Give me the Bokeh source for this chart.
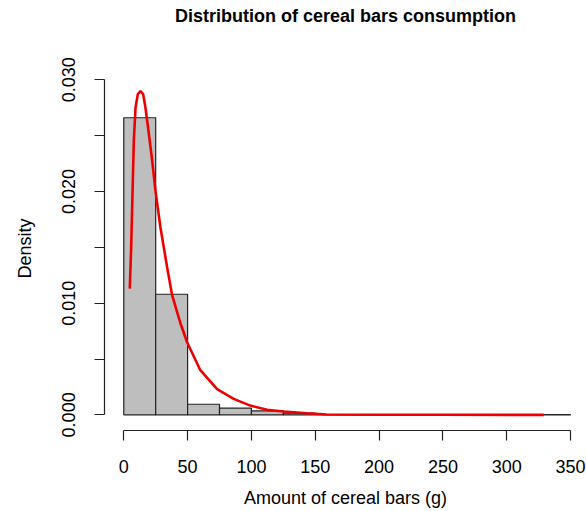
from bokeh.plotting import figure
from bokeh.models import LinearAxis, FixedTicker, Range1d, Title, NumeralTickFormatter
from bokeh.embed import file_html
from bokeh.resources import INLINE

# Histogram bins (g) and densities
bin_left = [0, 25, 50, 75, 100, 125, 150, 175, 200, 225, 250, 275, 300, 325]
bin_right = [25, 50, 75, 100, 125, 150, 175, 200, 225, 250, 275, 300, 325, 350]
density = [0.0266, 0.0108, 0.00095, 0.0006, 0.00035, 0.00015, 0.00003, 0, 0, 0, 0, 0, 0, 0.00002]

# Kernel density curve
kde_x = [4.7, 5.8, 7.1, 7.9, 9.2, 11.0, 13.1, 15.2, 17.0, 19.6, 22.2, 24.8, 28.7, 34.0, 37.9,
         44.4, 49.6, 60.0, 73.1, 86.1, 99.2, 112.3, 125.3, 143.6, 159.0, 200.0, 250.0, 329.0]
kde_y = [0.0113, 0.0150, 0.0210, 0.0246, 0.0275, 0.0287, 0.0290, 0.0287, 0.0275, 0.0252, 0.0228,
         0.0201, 0.0168, 0.0132, 0.0107, 0.0082, 0.0065, 0.0040, 0.0023, 0.00143, 0.00083,
         0.00045, 0.0003, 0.00015, 0.00003, 0.00001, 0.000005, 0.0]

x_ticks = [0, 50, 100, 150, 200, 250, 300, 350]
y_ticks = [0.0, 0.01, 0.02, 0.03]
y_minor = [0.005, 0.015, 0.025]

title_text = "Distribution of cereal bars consumption"

FONT = "Liberation Sans"
INK = "#222222"

p = figure(width=586, height=511, output_backend="svg", toolbar_location=None,
           x_axis_type=None, y_axis_type=None,
           x_range=Range1d(-15.1, 362.5), y_range=Range1d(-0.0014, 0.03119),
           min_border_left=104, min_border_right=0, min_border_top=66, min_border_bottom=81)
p.outline_line_color = None
p.xgrid.visible = False
p.ygrid.visible = False
p.background_fill_color = "white"
p.border_fill_color = "white"

# spacer between frame and title, then the title itself (outermost)
p.add_layout(Title(text=" ", text_font=FONT, text_font_size="18px", standoff=19), "above")
p.add_layout(Title(text=title_text, align="center", text_font=FONT, text_font_size="18px",
                   text_font_style="bold", text_color="black", standoff=0), "above")

p.quad(left=bin_left, right=bin_right, top=density, bottom=0,
       fill_color="#bebebe", line_color=INK, line_width=1.2)
p.line(kde_x, kde_y, line_color="#ee0000", line_width=2.6)

xa = LinearAxis(ticker=FixedTicker(ticks=x_ticks), bounds=(0, 350),
                axis_label="Amount of cereal bars (g)")
ya = LinearAxis(ticker=FixedTicker(ticks=y_ticks, minor_ticks=y_minor), bounds=(0, 0.03),
                axis_label="Density", formatter=NumeralTickFormatter(format="0.000"),
                major_label_orientation="vertical")
for ax in (xa, ya):
    ax.axis_line_color = INK
    ax.axis_line_width = 1.2
    ax.major_tick_line_color = INK
    ax.major_tick_line_width = 1.2
    ax.major_tick_out = 10
    ax.major_tick_in = 0
    ax.minor_tick_line_color = INK
    ax.minor_tick_line_width = 1.2
    ax.minor_tick_out = 10
    ax.minor_tick_in = 0
    ax.major_label_text_font = FONT
    ax.major_label_text_font_size = "18px"
    ax.major_label_text_color = "black"
    ax.axis_label_text_font = FONT
    ax.axis_label_text_font_size = "18px"
    ax.axis_label_text_font_style = "normal"
    ax.axis_label_text_color = "black"
xa.minor_tick_line_color = None
xa.major_label_standoff = 19
xa.axis_label_standoff = 12
ya.major_label_standoff = 19
ya.axis_label_standoff = 25

p.add_layout(xa, "below")
p.add_layout(ya, "left")

open("out.html", "w").write(file_html(p, INLINE))
